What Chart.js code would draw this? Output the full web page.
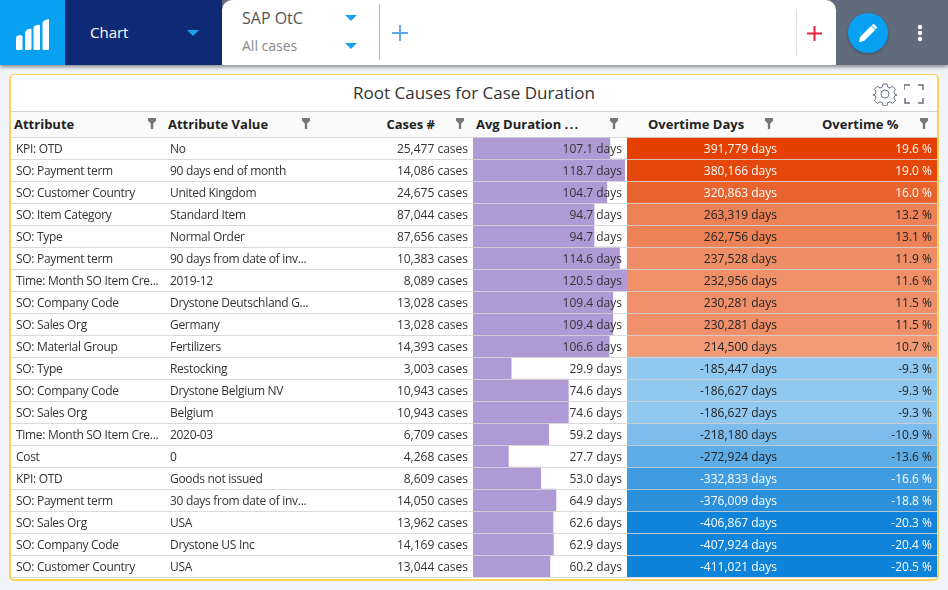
<!DOCTYPE html>
<html>
<head>
<meta charset="utf-8">
<title>Root Causes for Case Duration</title>
<script src="https://cdn.jsdelivr.net/npm/chart.js@4"></script>
<style>
html, body { margin: 0; padding: 0; }
body { width: 948px; height: 590px; overflow: hidden; background: #f1f4f9; font-family: "Open Sans", sans-serif; position: relative; color: #222; }
.abs { position: absolute; }
#topbar { left: 0; top: 0; width: 948px; height: 65px; background: #606b7c; box-shadow: 0 2px 4px rgba(0,0,0,0.45); }
#logo { left: 0; top: 0; width: 65px; height: 65px; background: #08a0f0; }
#logo svg { position: absolute; left: 15px; top: 18px; }
#chartMenu { left: 65px; top: 0; width: 157px; height: 65px; background: #0f2a75; color: #fff; font-size: 15px; line-height: 65px; }
#chartMenu span { position: absolute; left: 25px; }
.arrow { position: absolute; width: 0; height: 0; border-left: 6px solid transparent; border-right: 6px solid transparent; border-top: 6px solid #1aa0f0; }
#tab { left: 222px; top: 0; width: 614px; height: 65px; background: #fff; border-radius: 10px 10px 0 0; }
.sep { position: absolute; width: 1px; background: #c9c9c9; }
#editBtn { left: 848px; top: 13px; width: 40px; height: 40px; border-radius: 50%; background: #08a0f0; box-shadow: 0 1px 3px rgba(0,0,0,0.3); }
#panel { left: 9px; top: 74px; width: 926px; height: 504px; background: #fff; border: 1px solid #ffcf5c; border-left-width: 2px; border-bottom-width: 2px; border-right-width: 2px; border-radius: 5px; }
#title { left: 11px; top: 76px; width: 926px; text-align: center; font-size: 17px; line-height: 34px; color: #333; }
#headRow { left: 11px; top: 111px; width: 926px; background: #fafafa; border-top: 1px solid #d2d2d2; height: 26px; }
.th { position: absolute; top: 113px; font-size: 13px; font-weight: 700; line-height: 22px; color: #222; white-space: nowrap; }
.filter { position: absolute; top: 118px; width: 8px; height: 11px; background: #777; clip-path: polygon(0 0, 100% 0, 100% 25%, 65% 50%, 65% 100%, 35% 100%, 35% 50%, 0 25%); }
#tableChart { position: absolute; left: 11px; top: 137px; }
</style>
</head>
<body>
<div class="abs" id="topbar"></div>
<div class="abs" id="logo">
  <svg width="36" height="34" viewBox="0 0 36 34" fill="#fff">
    <path d="M1 20 q0-2 3-3 q3 0 3.500 1 v13 q0 1-1 1 h-4.500 q-1 0-1-1z M10 15 q0-2 3-4 q3-.5 3.500 0 v20 q0 1-1 1 h-4.500 q-1 0-1-1z M18.500 10 q0-2 3-3 q3-.5 3.500 0 v24 q0 1-1 1 h-4.500 q-1 0-1-1z M27.500 5 q0-2 3-3 q3-1 3.500-1 v30 q0 1-1 1 h-4.500 q-1 0-1-1z"/>
  </svg>
</div>
<div class="abs" id="chartMenu"><span>Chart</span><div class="arrow" style="left:122px;top:30px"></div></div>
<div class="abs" id="tab">
  <div class="abs" style="left:20px;top:7px;font-size:16px;line-height:22px;color:#555">SAP OtC</div>
  <div class="abs" style="left:20px;top:35px;font-size:14px;line-height:22px;color:#888">All cases</div>
  <div class="arrow" style="left:123px;top:15px"></div>
  <div class="arrow" style="left:123px;top:43px"></div>
  <div class="sep" style="left:157px;top:4px;height:56px;background:#bbb"></div>
  <svg class="abs" style="left:170px;top:25px" width="16" height="16"><path d="M8 0v16M0 8h16" stroke="#5fa8ea" stroke-width="2"/></svg>
  <div class="sep" style="left:574px;top:9px;height:47px;background:#ddd"></div>
  <svg class="abs" style="left:585px;top:26px" width="15" height="15"><path d="M7.500 0v15M0 7.500h15" stroke="#f0203c" stroke-width="2"/></svg>
</div>
<div class="abs" id="editBtn">
  <svg class="abs" style="left:10px;top:10px" width="20" height="20" viewBox="0 0 20 20" fill="#fff"><path d="M1 19l1-5L13 3l4 4L6 18zM14.500 1.500q1-1 2 0l2 2q1 1 0 2l-1 1-4-4z"/></svg>
</div>
<svg class="abs" style="left:916px;top:24px" width="8" height="18" fill="#fff"><circle cx="4" cy="3" r="2.200"/><circle cx="4" cy="9" r="2.200"/><circle cx="4" cy="15" r="2.200"/></svg>

<div class="abs" id="panel"></div>
<div class="abs" id="title">Root Causes for Case Duration</div>
<svg class="abs" style="left:873px;top:82px" width="24" height="24" viewBox="0 0 24 24" fill="none" stroke="#66707e" stroke-width="1"><circle cx="12" cy="12" r="4"/><path d="M10 2h4l.7 3 2.300 1 2.700-1.600 2.800 2.800-1.600 2.700 1 2.300 3 .7v0l-3 .7-1 2.300 1.600 2.700-2.800 2.800-2.700-1.600-2.300 1-.7 3h-4l-.7-3-2.300-1-2.700 1.600-2.800-2.800 1.600-2.700-1-2.300-3-.7v-0l3-.7 1-2.300-1.600-2.700 2.800-2.800 2.700 1.600 2.300-1z"/></svg>
<svg class="abs" style="left:904px;top:84px" width="20" height="20" fill="none" stroke="#66707e" stroke-width="1.500"><path d="M0 6V1h6M14 1h5v5M19 14v5h-5M6 19H1v-5"/></svg>

<div class="abs" id="headRow"></div>
<div class="th" style="left:14px">Attribute</div>
<div class="th" style="left:168px">Attribute Value</div>
<div class="th" style="right:513px">Cases #</div>
<div class="th" style="left:476px">Avg Duration <span style="letter-spacing:1.300px">...</span></div>
<div class="th" style="left:648px">Overtime Days</div>
<div class="th" style="left:822px">Overtime %</div>
<div class="filter" style="left:148px"></div>
<div class="filter" style="left:302px"></div>
<div class="filter" style="left:456px"></div>
<div class="filter" style="left:610px"></div>
<div class="filter" style="left:765px"></div>
<div class="filter" style="left:920px"></div>

<canvas id="tableChart" width="926" height="441"></canvas>

<script>
const attributes = ["KPI: OTD", "SO: Payment term", "SO: Customer Country", "SO: Item Category", "SO: Type", "SO: Payment term", "Time: Month SO Item Cre...", "SO: Company Code", "SO: Sales Org", "SO: Material Group", "SO: Type", "SO: Company Code", "SO: Sales Org", "Time: Month SO Item Cre...", "Cost", "KPI: OTD", "SO: Payment term", "SO: Sales Org", "SO: Company Code", "SO: Customer Country"];
const attributeValues = ["No", "90 days end of month", "United Kingdom", "Standard Item", "Normal Order", "90 days from date of inv...", "2019-12", "Drystone Deutschland G...", "Germany", "Fertilizers", "Restocking", "Drystone Belgium NV", "Belgium", "2020-03", "0", "Goods not issued", "30 days from date of inv...", "USA", "Drystone US Inc", "USA"];
const cases = [25477, 14086, 24675, 87044, 87656, 10383, 8089, 13028, 13028, 14393, 3003, 10943, 10943, 6709, 4268, 8609, 14050, 13962, 14169, 13044];
const avgDuration = [107.1, 118.7, 104.7, 94.7, 94.7, 114.6, 120.5, 109.4, 109.4, 106.6, 29.9, 74.6, 74.6, 59.2, 27.7, 53.0, 64.9, 62.6, 62.9, 60.2];
const overtimeDays = [391779, 380166, 320863, 263319, 262756, 237528, 232956, 230281, 230281, 214500, -185447, -186627, -186627, -218180, -272924, -332833, -376009, -406867, -407924, -411021];
const overtimePct = [19.6, 19.0, 16.0, 13.2, 13.1, 11.9, 11.6, 11.5, 11.5, 10.7, -9.3, -9.3, -9.3, -10.9, -13.6, -16.6, -18.8, -20.3, -20.4, -20.5];

// one colour per row of the two overtime columns
const heatColors = ["#e54000", "#e5470a", "#e9632f", "#ed8256", "#ed8256", "#ef8e66", "#ef9069", "#ef906a", "#ef906a", "#f29a76", "#90c8ef", "#90c8ef", "#90c8ef", "#7dbcec", "#5eade6", "#3f9ce1", "#2a90dc", "#1084da", "#1084da", "#0e83da"];

function fmt(n) {
    return n.toLocaleString("en-US");
}

// draws the cell texts at the row positions of the y scale
const cellText = {
    id: "cellText",
    afterDatasetsDraw(chart) {
        const {ctx, scales} = chart;
        const left = scales.xText.left;
        const durRight = scales.xDur.right;
        const heatLeft = scales.xHeat.left;
        const heatRight = scales.xHeat.right;
        ctx.save();
        ctx.font = '12px "Open Sans"';
        ctx.textBaseline = "middle";
        attributes.forEach((name, i) => {
            const y = scales.y.getPixelForValue(i) + 2;
            ctx.fillStyle = "#333";
            ctx.textAlign = "left";
            ctx.letterSpacing = "-0.3px";
            ctx.fillText(name, left + 5, y);
            ctx.fillText(attributeValues[i], left + 159, y);
            ctx.letterSpacing = "0px";
            ctx.textAlign = "right";
            ctx.fillText(fmt(cases[i]) + " cases", scales.xText.right - 5, y);
            ctx.fillText(avgDuration[i].toFixed(1) + " days", durRight - 5, y);
            const p = overtimePct[i];
            ctx.fillStyle = (p > 13.5 || p < -15) ? "#fff" : "#222";
            ctx.fillText(fmt(overtimeDays[i]) + " days", heatLeft + 150, y);
            ctx.fillText(p.toFixed(1) + " %", heatRight - 5, y);
        });
        ctx.restore();
    }
};

new Chart(document.getElementById("tableChart"), {
    type: "bar",
    plugins: [cellText],
    data: {
        labels: attributes,
        datasets: [
            {
                label: "Avg Duration",
                data: avgDuration,
                xAxisID: "xDur",
                backgroundColor: "#b09ad6"
            },
            {
                // full width band, the value only picks the row colour
                label: "Overtime",
                data: overtimePct.map(() => 1),
                xAxisID: "xHeat",
                backgroundColor: heatColors
            }
        ]
    },
    options: {
        indexAxis: "y",
        responsive: false,
        animation: false,
        events: [],
        layout: {padding: {bottom: 1}},
        datasets: {
            bar: {
                categoryPercentage: 1,
                barPercentage: 1,
                grouped: false,
                borderWidth: 0
            }
        },
        plugins: {
            legend: {display: false},
            tooltip: {enabled: false},
            title: {display: false}
        },
        scales: {
            xText: {type: "linear", position: "bottom", stack: "cols", stackWeight: 462, display: false, min: 0, max: 1},
            xDur: {type: "linear", position: "bottom", stack: "cols", stackWeight: 154, display: false, min: 0, max: 120.5},
            xHeat: {type: "linear", position: "bottom", stack: "cols", stackWeight: 310, display: false, min: 0, max: 1},
            y: {
                type: "category",
                offset: true,
                border: {display: false},
                ticks: {display: false},
                grid: {
                    offset: true,
                    z: 1,
                    color: "rgba(212,212,212,0.85)",
                    lineWidth: 1,
                    drawTicks: false
                }
            }
        }
    }
});
</script>
</body>
</html>
